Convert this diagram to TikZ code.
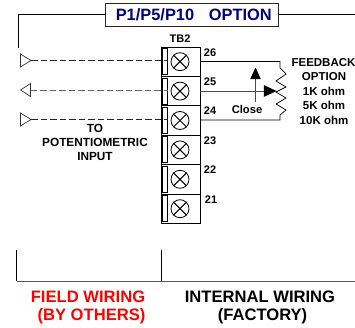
\documentclass[tikz,border=0pt]{standalone}
\usepackage{fontspec}
\setmainfont{Liberation Sans}
\usetikzlibrary{arrows.meta}
\definecolor{navy}{RGB}{0,0,128}
\tikzset{
  x=1pt,y=-1pt,
  term/.style={draw,line width=0.9pt,minimum width=39pt,minimum height=29.4pt,inner sep=0pt,outer sep=0pt},
  slot/.style={draw,line width=0.8pt,fill=white,minimum width=5pt,minimum height=26pt,inner sep=0pt,outer sep=0pt},
  screw/.style={draw,line width=0.8pt,circle,minimum size=18pt,inner sep=0pt},
  lab/.style={font=\bfseries\fontsize{11}{13}\selectfont,inner sep=0pt},
  txt/.style={font=\bfseries\fontsize{11.5}{14}\selectfont,inner sep=0pt},
  big/.style={font=\bfseries\fontsize{16.6}{20}\selectfont,inner sep=0pt},
  tri/.style={draw=black!80,line width=0.7pt,fill=white},
  wire/.style={line width=0.7pt},
  dashline/.style={line width=0.8pt,dash pattern=on 6.5pt off 3pt},
}
\begin{document}
\begin{tikzpicture}
\useasboundingbox (0,0) rectangle (355,328);
\fill[white] (0,0) rectangle (355,328);
% title
\node[draw=black!85,line width=0.9pt,minimum width=172.5pt,minimum height=23pt,inner sep=0pt,
  text=navy,big,font=\bfseries\fontsize{16.4}{20}\selectfont] (title) at (191.8,14.5) {\hspace{4pt}P1/P5/P10\hspace{0.9em}OPTION};
\coordinate (tl) at (18.5,48);
\coordinate (tr) at (355,14.5);
\draw[wire] (title.west) -| (tl);
\draw[wire] (title.east) -- (tr);
% terminals
\foreach \n/\y in {26/61.7,25/91.1,24/120.5,23/149.9,22/179.3,21/208.7}{
  \node[term] (t\n) at (180.5,\y) {};
  \node[slot] (s\n) at (165,\y) {};
  \node[screw] (c\n) at (180,\y) {};
  \draw[line width=1pt] (c\n.45) -- (c\n.225);
  \draw[line width=1pt] (c\n.135) -- (c\n.315);
}
\node[lab] (tb) at (180,38.5) {TB2};
\node[lab] (n26) at (210,53) {26};
\node[lab] (n25) at (210,82) {25};
\node[lab] (n24) at (210,111) {24};
\node[lab] (n23) at (210,141) {23};
\node[lab] (n22) at (210,170) {22};
\node[lab] (n21) at (211,200) {21};
% field triangles and dashed lines
\coordinate (a1) at (31,60.5);
\coordinate (a2) at (30.5,90);
\coordinate (a3) at (31,119.5);
\draw[tri] (a1) -- (20.5,54) -- (20.5,67) -- cycle;
\draw[tri] (20.5,90) -- (30.5,83.5) -- (30.5,96.5) -- cycle;
\draw[tri] (a3) -- (20.5,113) -- (20.5,126) -- cycle;
\draw[dashline,black!85] (a1) -- (s26.east |- a1);
\draw[dashline,black!60] (a2) -- (s25.east |- a2);
\draw[dashline,black!85] (a3) -- (s24.east |- a3);
\node[txt,align=center,font=\bfseries\fontsize{11.8}{14}\selectfont] (to) at (95,142.5) {TO\\POTENTIOMETRIC\\INPUT};
% feedback
\coordinate (rtop) at (280,61.5);
\coordinate (rbot) at (280,120);
\draw[wire] (t26.east |- rtop) -- (rtop) -- (280,68) -- (286,74) -- (276,81) -- (286,87) -- (276,92)
  -- (286,98) -- (276,104) -- (286,110) -- (280,115) -- (rbot) -- (t24.east |- rbot);
\coordinate (wiper) at (276,91);
\draw[wire,black!70] (t25.east |- wiper) -- (265,91);
\draw[draw=black,fill=black] (wiper) -- (264,85.5) -- (264,96.5) -- cycle;
\coordinate (ca) at (255.5,102);
\coordinate (cb) at (255.5,68);
\draw[wire,black!70] (ca) -- (255.5,78);
\draw[fill=black,draw=black] (cb) -- (250.5,79) -- (260.5,79) -- cycle;
\node[txt,font=\bfseries\fontsize{11.2}{14}\selectfont] (close) at (247,109.5) {Close};
\node[txt] (f1) at (323.5,63) {FEEDBACK};
\node[txt] (f2) at (324,77) {OPTION};
\node[txt] (f3) at (324,91) {1K ohm};
\node[txt] (f4) at (324,105) {5K ohm};
\node[txt] (f5) at (324,120) {10K ohm};
% bottom
\coordinate (bl) at (16.5,281);
\coordinate (bm) at (161,281);
\coordinate (br) at (355,281);
\coordinate (blt) at (16.5,250);
\coordinate (bmt) at (161,250);
\draw[black!65,line width=1pt] (bl) -- (br);
\draw[wire] (bl) -- (blt);
\draw[wire] (bm) -- (bmt);
\node[big,text=red] (w1) at (88,296.5) {FIELD WIRING};
\node[big,text=red] (w2) at (91.5,316.5) {(BY OTHERS)};
\node[big] (w3) at (260,296.5) {INTERNAL WIRING};
\node[big] (w4) at (262.5,316.5) {(FACTORY)};
\end{tikzpicture}
\end{document}
